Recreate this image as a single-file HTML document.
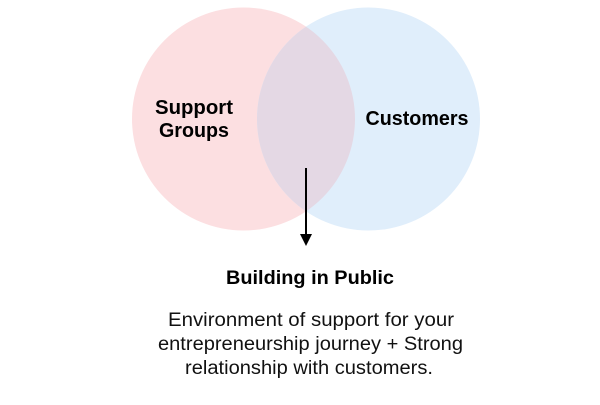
<!DOCTYPE html>
<html><head><style>body{margin:0;background:#fff;width:600px;height:400px;overflow:hidden}</style></head>
<body>
<svg width="600" height="400" xmlns="http://www.w3.org/2000/svg">
<defs><clipPath id="c"><circle cx="243.5" cy="119" r="111.5"/></clipPath></defs>
<circle cx="243.5" cy="119" r="111.5" fill="#fcdfe1"/>
<circle cx="368.5" cy="119" r="111.5" fill="#e0eefb"/>
<circle cx="368.5" cy="119" r="111.5" fill="#e4d8e4" clip-path="url(#c)"/>
<g font-family="Liberation Sans, sans-serif" font-weight="bold" font-size="20" fill="#000" text-anchor="middle" lengthAdjust="spacingAndGlyphs">
<text x="194" y="114" textLength="78" lengthAdjust="spacingAndGlyphs">Support</text>
<text x="194" y="137" textLength="70" lengthAdjust="spacingAndGlyphs">Groups</text>
<text x="417" y="125" textLength="103" lengthAdjust="spacingAndGlyphs">Customers</text>
<text x="310" y="284" font-size="19" textLength="168" lengthAdjust="spacingAndGlyphs">Building in Public</text>
</g>
<line x1="306" y1="168" x2="306" y2="236" stroke="#000" stroke-width="2"/>
<polygon points="300,234 312,234 306,246" fill="#000"/>
<g font-family="Liberation Sans, sans-serif" font-size="19" fill="#111" text-anchor="middle">
<text x="311" y="326" textLength="286" lengthAdjust="spacingAndGlyphs">Environment of support for your</text>
<text x="310.5" y="350" textLength="305" lengthAdjust="spacingAndGlyphs">entrepreneurship journey + Strong</text>
<text x="309" y="374" textLength="248" lengthAdjust="spacingAndGlyphs">relationship with customers.</text>
</g>
</svg>
</body></html>
